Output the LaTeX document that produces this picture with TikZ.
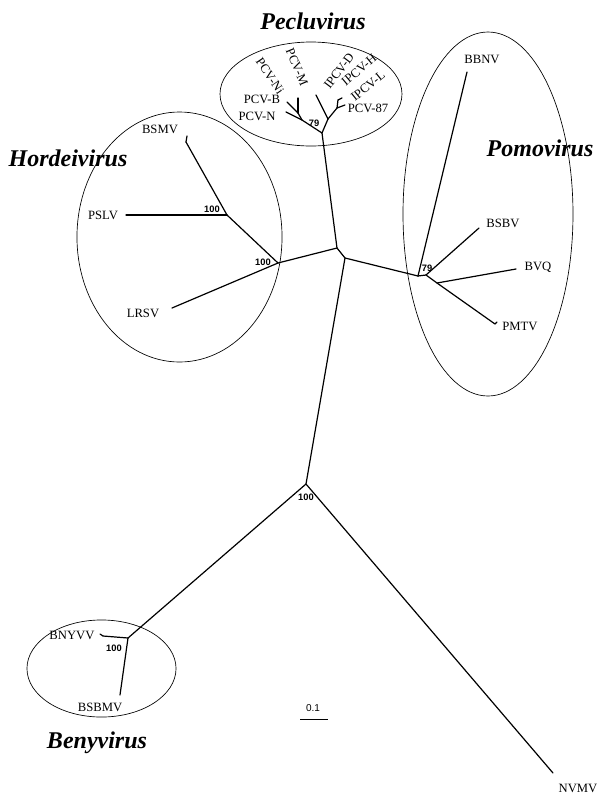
\documentclass[tikz,border=0pt]{standalone}
\usepackage{fontspec}
\setmainfont{Liberation Serif}
\newfontfamily\bsfont{Liberation Sans}
\begin{document}
\begin{tikzpicture}[x=0.75pt,y=-0.75pt,
  br/.style={line width=0.9pt, line cap=round, line join=round},
  clade/.style={line width=0.5pt},
  taxon/.style={font=\fontsize{9.5}{10}\selectfont, inner sep=0pt},
  boot/.style={font=\bsfont\bfseries\fontsize{7}{8}\selectfont, inner sep=0pt},
  genus/.style={font=\bfseries\itshape\fontsize{18}{20}\selectfont, inner sep=0pt}]
\useasboundingbox (0,0) rectangle (601,794);

% clade ellipses
\draw[clade] (311,94) ellipse [x radius=68.25pt, y radius=39pt];
\draw[clade] (179.5,237) ellipse [x radius=76.9pt, y radius=93.75pt];
\draw[clade] (488,214) ellipse [x radius=63.75pt, y radius=136.5pt];
\draw[clade] (101.5,668.5) ellipse [x radius=55.9pt, y radius=36.4pt];

% internal nodes
\coordinate (A) at (337,248);
\coordinate (B) at (345,258);
\coordinate (C) at (306,484);
\coordinate (H1) at (278,263);
\coordinate (H2) at (227,215);
\coordinate (PR) at (322,133);
\coordinate (L1) at (302,120);
\coordinate (L2) at (298,113);
\coordinate (R1) at (328,119);
\coordinate (R2) at (337,108);
\coordinate (P1) at (418,276);
\coordinate (P2) at (426,275);
\coordinate (P3) at (437,283);
\coordinate (Y) at (128,638);

% leaves
\coordinate (lBSMV) at (186,142);
\coordinate (lBSMVb) at (187,136);
\coordinate (lPSLV) at (126,215);
\coordinate (lLRSV) at (172,308);
\coordinate (lM) at (298,98);
\coordinate (lB) at (287,102);
\coordinate (lN) at (286,112);
\coordinate (lD) at (316,95);
\coordinate (lH) at (338,100);
\coordinate (lL) at (342,98);
\coordinate (l87) at (345,105);
\coordinate (lBBNV) at (467,72);
\coordinate (lBSBV) at (479,228);
\coordinate (lBVQ) at (516,269);
\coordinate (lPMTV) at (495,324);
\coordinate (lPMTVb) at (497,322);
\coordinate (lBNYVV) at (103,636);
\coordinate (lBNYVVb) at (100,634);
\coordinate (lBSBMV) at (120,695);
\coordinate (lNVMV) at (553,773);

% branches
\draw[br] (A) -- (B);
\draw[br] (A) -- (PR);
\draw[br] (A) -- (H1);
\draw[br] (B) -- (P1);
\draw[br] (B) -- (C);
\draw[br] (C) -- (Y);
\draw[br] (C) -- (lNVMV);
% Hordeivirus
\draw[br] (H1) -- (lLRSV);
\draw[br] (H1) -- (H2);
\draw[br] (H2) -- (lPSLV);
\draw[br] (H2) -- (lBSMV);
\draw[br] (lBSMV) -- (lBSMVb);
% Pecluvirus
\draw[br] (PR) -- (L1);
\draw[br] (L1) -- (L2);
\draw[br] (L2) -- (lM);
\draw[br] (L2) -- (lB);
\draw[br] (L1) -- (lN);
\draw[br] (PR) -- (R1);
\draw[br] (R1) -- (lD);
\draw[br] (R1) -- (R2);
\draw[br] (R2) -- (lH);
\draw[br] (lH) -- (lL);
\draw[br] (R2) -- (l87);
% Pomovirus
\draw[br] (P1) -- (lBBNV);
\draw[br] (P1) -- (P2);
\draw[br] (P2) -- (lBSBV);
\draw[br] (P2) -- (P3);
\draw[br] (P3) -- (lBVQ);
\draw[br] (P3) -- (lPMTV);
\draw[br] (lPMTV) -- (lPMTVb);
% Benyvirus
\draw[br] (Y) -- (lBNYVV);
\draw[br] (lBNYVV) -- (lBNYVVb);
\draw[br] (Y) -- (lBSBMV);

% taxon labels
\node[taxon] (tBSMV) at (160,129) {BSMV};
\node[taxon] (tPSLV) at (103,215) {PSLV};
\node[taxon] (tLRSV) at (143,313) {LRSV};
\node[taxon] (tPCVB) at (262,99) {PCV-B};
\node[taxon] (tPCVN) at (257,116) {PCV-N};
\node[taxon] (tPCV87) at (368,108) {PCV-87};
\node[taxon, rotate=-56] (tPCVNi) at (270,76) {PCV-Ni};
\node[taxon, rotate=-67] (tPCVM) at (297,67) {PCV-M};
\node[taxon, rotate=53] (tIPCVD) at (339,71) {IPCV-D};
\node[taxon, rotate=40] (tIPCVH) at (359,70) {IPCV-H};
\node[taxon, rotate=39] (tIPCVL) at (368,86) {IPCV-L};
\node[taxon] (tBBNV) at (482,59) {BBNV};
\node[taxon] (tBSBV) at (503,223) {BSBV};
\node[taxon] (tBVQ) at (538,267) {BVQ};
\node[taxon] (tPMTV) at (520,326) {PMTV};
\node[taxon] (tBNYVV) at (72,635) {BNYVV};
\node[taxon] (tBSBMV) at (100,707) {BSBMV};
\node[taxon] (tNVMV) at (578,788) {NVMV};

% bootstrap values
\node[boot] (b1) at (212,209) {100};
\node[boot] (b2) at (263,262) {100};
\node[boot] (b3) at (314,123) {79};
\node[boot] (b4) at (427,268) {79};
\node[boot] (b5) at (306,497) {100};
\node[boot] (b6) at (114,648) {100};

% genus names
\node[genus] (gHord) at (68,158) {Hordeivirus};
\node[genus] (gPecl) at (313,21) {Pecluvirus};
\node[genus] (gPomo) at (540,148) {Pomovirus};
\node[genus] (gBeny) at (97,743) {Benyvirus};

% scale bar
\node[inner sep=0pt, font=\bsfont\fontsize{7.5}{8}\selectfont] (sc) at (313,708) {0.1};
\coordinate (s1) at (300,719);
\coordinate (s2) at (328,719);
\draw[line width=0.7pt] (s1) -- (s2);
\end{tikzpicture}
\end{document}
